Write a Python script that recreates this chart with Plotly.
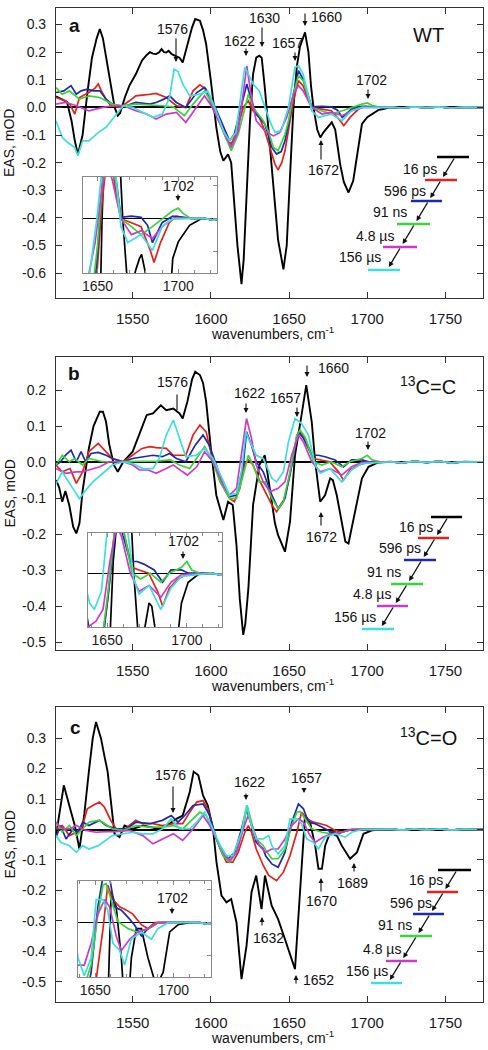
import plotly.graph_objects as go

W, H = 488, 1050
FONT = "Liberation Sans, Arial, sans-serif"

# ---------------- data: (wavenumber cm-1, EAS mOD) ----------------
TAIL = [(1715, 0.001), (1722, -0.002), (1730, 0.002), (1738, -0.001), (1746, 0.002),
        (1754, -0.002), (1762, 0.001), (1774, 0.0)]

SERIES = ["16 ps", "596 ps", "91 ns", "4.8 \u00b5s", "156 \u00b5s"]
COLORS = ["#000000", "#e3211c", "#1f2aa8", "#38d438", "#cc3acc", "#3fdede"]

A_BLACK = [(1501,0.04),(1508,0.02),(1511,-0.05),(1513,-0.12),(1515,-0.17),(1518,-0.10),(1521,0.05),(1524,0.18),(1527,0.25),(1529,0.284),(1531,0.25),(1534,0.15),(1537,0.04),(1538.5,0.0),(1540.5,-0.03),(1542,-0.02),(1545,0.036),(1548,0.08),(1552,0.12),(1556,0.17),(1559,0.19),(1561,0.2),(1563,0.195),(1565,0.193),(1567,0.2),(1568.5,0.211),(1570,0.2),(1571.5,0.199),(1573,0.205),(1575,0.193),(1578,0.185),(1580,0.18),(1582,0.163),(1585,0.229),(1588,0.29),(1590,0.32),(1593,0.314),(1595,0.28),(1597,0.229),(1600,0.097),(1603.5,-0.072),(1606,-0.16),(1608,-0.193),(1611,-0.17),(1613,-0.2),(1615,-0.35),(1617,-0.5),(1619.6,-0.64),(1621,-0.55),(1623,-0.3),(1625,-0.05),(1627,0.121),(1629,0.18),(1631,0.187),(1632.5,0.18),(1634.5,0.072),(1637,-0.1),(1640,-0.3),(1643,-0.48),(1646.4,-0.586),(1648.5,-0.5),(1650.6,-0.25),(1652.8,0.0),(1655,0.15),(1657,0.22),(1660.2,0.272),(1662.4,0.2),(1664,0.08),(1665.6,0.0),(1668,-0.08),(1670,-0.109),(1672,-0.09),(1674,-0.075),(1676,-0.06),(1677.3,-0.054),(1679.5,-0.08),(1682.7,-0.206),(1685,-0.27),(1688,-0.308),(1691,-0.266),(1693.4,-0.17),(1696.6,-0.06),(1700,-0.035),(1703,-0.024),(1707,-0.01),(1711.5,-0.004)]
A_RED = [(1501,0.036),(1507,0.024),(1510,0.01),(1513,-0.024),(1516,0.036),(1522,0.054),(1526,0.07),(1528,0.085),(1530,0.06),(1533,0.03),(1536,0.006),(1542,0.0),(1548,0.024),(1552,0.042),(1559,0.046),(1565,0.051),(1571.5,0.036),(1575,0.02),(1578,0.006),(1584,0.0),(1588.6,0.06),(1593,0.082),(1597,0.066),(1601,0.0),(1606,-0.06),(1610,-0.115),(1613,-0.133),(1616,-0.097),(1620.7,0.0),(1624,0.024),(1627,-0.012),(1631,-0.036),(1634.5,-0.085),(1638,-0.15),(1641,-0.205),(1643,-0.226),(1645.3,-0.2),(1647.4,-0.157),(1650,-0.07),(1652.8,0.024),(1656,0.097),(1659,0.079),(1662,0.03),(1664.5,0.0),(1671,-0.006),(1677,-0.012),(1682.7,-0.048),(1685,-0.066),(1689,-0.036),(1694.4,-0.006),(1698.7,0.004),(1703,0.002),(1710,0.0)]
A_BLUE = [(1501,0.054),(1506,0.06),(1510.6,0.079),(1514,0.048),(1517,0.06),(1521,0.066),(1525,0.06),(1529,0.06),(1533,0.03),(1537,0.012),(1544,0.002),(1552,0.018),(1561,0.012),(1565,0.018),(1570,0.03),(1573.6,0.042),(1578,0.018),(1584,0.0),(1591,0.054),(1596,0.072),(1601,0.024),(1608,-0.072),(1612,-0.121),(1615,-0.097),(1620,0.012),(1623,0.085),(1626,0.024),(1629,-0.024),(1634.5,-0.06),(1639,-0.145),(1642,-0.169),(1645,-0.16),(1647.4,-0.121),(1650,-0.05),(1652.8,0.048),(1656,0.133),(1659,0.103),(1662,0.05),(1664.5,0.002),(1671,0.004),(1677,0.002),(1681,-0.01),(1684,-0.036),(1690,-0.006),(1696.6,0.004),(1703,0.002),(1710,0.0)]
A_GREEN = [(1501,0.072),(1505,0.048),(1509.5,0.06),(1516,0.03),(1522,0.042),(1529,0.036),(1537,0.012),(1544,0.006),(1552,0.012),(1561,0.01),(1569,0.006),(1576,0.002),(1583,-0.03),(1588.6,0.012),(1596,0.06),(1601,0.012),(1608,-0.085),(1613,-0.157),(1617.5,-0.097),(1621.7,0.0),(1624,0.048),(1627,0.0),(1633.5,-0.048),(1637,-0.09),(1640,-0.145),(1643,-0.157),(1647.4,-0.097),(1650,-0.04),(1652.8,0.048),(1656,0.115),(1659,0.097),(1664.5,0.0),(1671,-0.012),(1677,-0.024),(1684,-0.012),(1690,0.0),(1696.6,0.012),(1700,0.016),(1703,0.008),(1708,0.0)]
A_MAGENTA = [(1501,0.012),(1507,0.018),(1514,0.006),(1522,-0.012),(1531,0.0),(1537,0.006),(1544,0.006),(1552,-0.012),(1559,-0.024),(1565,-0.042),(1571.5,-0.024),(1578,-0.018),(1584,-0.054),(1591,0.0),(1596,0.042),(1601,0.0),(1608,-0.085),(1613,-0.145),(1617.5,-0.085),(1620.7,0.048),(1623,0.15),(1626,0.036),(1629,-0.048),(1634.5,-0.085),(1640,-0.103),(1644,-0.091),(1648.5,-0.036),(1652.8,0.048),(1656,0.079),(1659,0.06),(1664.5,0.0),(1671,-0.024),(1677,-0.018),(1684,-0.03),(1690,-0.012),(1696.6,0.0),(1705,0.0)]
A_CYAN = [(1501,-0.048),(1505,-0.109),(1508.5,-0.127),(1513,-0.145),(1515,-0.175),(1518,-0.121),(1522,-0.121),(1528,-0.091),(1533,-0.072),(1539.5,-0.024),(1544,0.006),(1550,0.0),(1556.5,-0.018),(1563,-0.036),(1569,-0.024),(1573.6,0.036),(1576.5,0.139),(1579,0.13),(1582,0.085),(1586.5,0.042),(1593,0.048),(1598,0.06),(1602.5,0.0),(1608,-0.085),(1612,-0.121),(1616,-0.091),(1619.6,0.06),(1621.7,0.145),(1624,0.121),(1627,0.085),(1631,0.06),(1634.6,0.0),(1638,-0.054),(1641,-0.09),(1645,-0.085),(1649.6,0.0),(1653.8,0.145),(1656,0.151),(1659,0.121),(1664.5,-0.012),(1668.8,-0.036),(1677,-0.024),(1684,-0.048),(1690,-0.012),(1696.6,0.0),(1705,0.0)]

B_BLACK = [(1501,-0.05),(1503,-0.07),(1505,-0.11),(1507,-0.08),(1509.5,-0.12),(1512,-0.18),(1514,-0.198),(1516,-0.17),(1518,-0.08),(1522,0.038),(1525,0.1),(1529,0.14),(1531,0.14),(1533,0.112),(1535,0.05),(1538,-0.008),(1540.5,-0.027),(1544,0.001),(1550,0.029),(1555.5,0.094),(1559,0.131),(1563,0.135),(1566,0.15),(1568,0.158),(1571.5,0.144),(1576,0.149),(1580,0.135),(1582,0.121),(1585,0.168),(1588,0.23),(1590,0.251),(1593,0.242),(1595,0.22),(1597,0.168),(1600,0.038),(1603.5,-0.092),(1608,-0.161),(1611,-0.11),(1614,-0.119),(1616.4,-0.231),(1618.5,-0.38),(1620.7,-0.48),(1622,-0.45),(1624,-0.351),(1627,-0.119),(1631,-0.008),(1634.5,0.019),(1637.8,-0.073),(1641,-0.17),(1643,-0.203),(1647.4,-0.249),(1650.6,-0.166),(1653.8,0.019),(1658,0.131),(1661,0.214),(1664.5,0.112),(1666.7,0.001),(1669.9,-0.11),(1673,-0.092),(1676.3,-0.045),(1678,-0.05),(1680.5,-0.092),(1684,-0.17),(1686,-0.221),(1688,-0.226),(1692.3,-0.138),(1696.6,-0.045),(1700.8,-0.013),(1707,-0.001)]
B_RED = [(1501,-0.008),(1505,-0.027),(1510,-0.018),(1514,-0.059),(1518,-0.027),(1522,0.029),(1528,0.052),(1533,0.029),(1537,0.01),(1544,0.001),(1550,0.019),(1556,0.038),(1561,0.043),(1565,0.04),(1571.5,0.038),(1576,0.019),(1584,0.019),(1588.6,0.075),(1593,0.103),(1597,0.084),(1600.4,0.019),(1606,-0.055),(1612,-0.101),(1615,-0.11),(1618.5,-0.073),(1621.7,-0.004),(1624,0.006),(1627,-0.008),(1631,-0.05),(1634.6,-0.082),(1639,-0.119),(1642,-0.138),(1646.4,-0.11),(1650.6,-0.036),(1655,0.075),(1657,0.084),(1660.2,0.066),(1665.6,0.01),(1670,0.006),(1676,0.001),(1681.6,-0.027),(1684.8,-0.05),(1689,-0.022),(1694.4,-0.008),(1700.8,0.0)]
B_BLUE = [(1501,-0.008),(1504,0.001),(1507,0.019),(1510.6,0.033),(1514,0.001),(1517,0.029),(1520,0.001),(1523.4,0.024),(1528,0.027),(1533,0.019),(1537,0.01),(1544,0.001),(1550,0.01),(1556.5,0.015),(1563,0.019),(1569,0.015),(1573.6,0.024),(1578,0.01),(1584,0.001),(1590,0.047),(1595,0.075),(1599,0.047),(1603.6,-0.008),(1608,-0.064),(1612,-0.096),(1616.4,-0.092),(1620.7,-0.008),(1622.8,0.084),(1626,0.047),(1629,0.001),(1633.5,-0.027),(1635,-0.045),(1639,-0.092),(1643,-0.129),(1647.4,-0.101),(1651.7,-0.008),(1656,0.084),(1659.2,0.066),(1664.5,0.019),(1668.8,0.019),(1673,0.015),(1679.5,0.006),(1684.8,-0.013),(1690,0.006),(1696.6,0.006),(1701,0.001)]
B_GREEN = [(1501,-0.008),(1505,0.019),(1509.5,0.001),(1513,0.01),(1518,-0.008),(1522,0.01),(1531,0.001),(1544,0.001),(1555,0.001),(1565,0.003),(1574,0.006),(1580,-0.008),(1586.5,-0.018),(1591,0.01),(1596,0.043),(1600.4,0.01),(1606,-0.055),(1612,-0.101),(1616.4,-0.101),(1620.7,-0.036),(1624,0.019),(1627,-0.008),(1631,-0.055),(1634.6,-0.055),(1639,-0.101),(1643,-0.129),(1646.4,-0.11),(1650.6,-0.027),(1655,0.075),(1657,0.089),(1660.2,0.07),(1665.6,0.001),(1671,-0.008),(1677,0.001),(1683.7,-0.013),(1689,0.001),(1696.6,0.01),(1700,0.019),(1703,0.006),(1709,0.0)]
B_MAGENTA = [(1501,-0.018),(1507,-0.031),(1514,-0.027),(1518,-0.027),(1522,-0.022),(1529,-0.013),(1535,0.001),(1544,0.001),(1550,-0.008),(1554.5,-0.022),(1560,-0.022),(1565,-0.031),(1571.5,-0.018),(1576,-0.008),(1582,-0.027),(1585,-0.036),(1591,-0.013),(1596,0.029),(1601.4,0.001),(1608,-0.064),(1612,-0.092),(1616.4,-0.073),(1620.7,0.056),(1622.8,0.121),(1626,0.066),(1629,-0.008),(1633.5,-0.055),(1638,-0.082),(1643,-0.073),(1647.4,-0.055),(1651.7,0.019),(1656,0.075),(1659.2,0.056),(1664.5,0.001),(1670,-0.027),(1676.3,-0.018),(1683.7,-0.036),(1690,-0.013),(1696.6,-0.001)]
B_CYAN = [(1501,-0.06),(1505,-0.027),(1511.7,-0.073),(1516,-0.101),(1520,-0.078),(1524.5,-0.055),(1531,-0.031),(1537,-0.008),(1544,0.001),(1550,-0.004),(1556.5,-0.018),(1563,-0.018),(1567,0.01),(1571.5,0.075),(1576,0.117),(1580,0.066),(1584,0.015),(1590.7,0.019),(1596,0.038),(1601.4,0.01),(1608,-0.055),(1612,-0.092),(1616.4,-0.087),(1619.6,-0.027),(1622.4,0.084),(1625,0.056),(1629,0.019),(1633.5,0.01),(1639,-0.045),(1642,-0.055),(1646.4,-0.027),(1649.6,0.056),(1653.8,0.121),(1658,0.107),(1662.4,0.075),(1666.7,-0.008),(1670,-0.031),(1676.3,-0.018),(1683.7,-0.055),(1690,-0.022),(1696.6,-0.004)]

C_BLACK = [(1501,-0.02),(1503,0.046),(1506,0.145),(1509.5,0.079),(1513,0.013),(1516,-0.064),(1519,0.046),(1522,0.19),(1524.5,0.3),(1526.6,0.353),(1529.8,0.298),(1532,0.24),(1534,0.19),(1538.4,-0.014),(1541.6,-0.025),(1544.8,0.013),(1550,0.002),(1556.5,0.013),(1561,0.008),(1567,0.002),(1573.6,0.019),(1578,0.035),(1582,0.046),(1586.5,0.123),(1589,0.19),(1592,0.178),(1595,0.112),(1598,0.079),(1601.4,0.002),(1603.6,-0.107),(1606.8,-0.217),(1610,-0.239),(1613,-0.228),(1616.4,-0.305),(1619.6,-0.491),(1622.8,-0.382),(1626,-0.206),(1629,-0.151),(1632.4,-0.261),(1634.6,-0.151),(1638.9,-0.25),(1643,-0.294),(1647.4,-0.36),(1651.7,-0.425),(1653.8,-0.458),(1657,-0.206),(1660.2,0.046),(1663.4,0.024),(1666.7,-0.053),(1668.8,-0.129),(1671,-0.129),(1673.1,-0.053),(1676.3,-0.009),(1679.5,-0.009),(1683.7,-0.053),(1689,-0.096),(1693.4,-0.075),(1697.6,-0.014),(1703,-0.003),(1710,0.0)]
C_RED = [(1501,0.002),(1505,0.013),(1509.5,-0.02),(1514,-0.009),(1518,0.013),(1521,0.068),(1524.5,0.079),(1528.8,0.09),(1532,0.073),(1536,0.03),(1539.5,0.002),(1544,-0.003),(1552,0.03),(1556.5,0.019),(1563,0.019),(1569,0.013),(1576,0.019),(1582,0.019),(1586.5,0.057),(1591,0.09),(1595,0.095),(1598,0.068),(1601.4,0.002),(1606,-0.064),(1610,-0.107),(1614,-0.107),(1617.5,-0.075),(1621.7,-0.009),(1624,0.013),(1626,-0.009),(1629,-0.064),(1633.5,-0.118),(1637,-0.151),(1642,-0.168),(1646.4,-0.14),(1650.6,-0.086),(1655,-0.009),(1658,0.057),(1661.3,0.035),(1665.6,0.024),(1670,0.019),(1674,0.013),(1679.5,-0.003),(1683.7,-0.009),(1688,0.0)]
C_BLUE = [(1501,-0.025),(1504,0.013),(1507.4,-0.031),(1512,0.002),(1515,-0.009),(1518,0.024),(1522,0.013),(1528.8,0.03),(1533,0.013),(1539.5,0.002),(1546,0.002),(1552,0.024),(1561,0.019),(1569,0.03),(1574.7,0.046),(1579,0.024),(1583.3,0.046),(1588.6,0.079),(1595,0.084),(1599.3,0.046),(1603.6,-0.031),(1608,-0.086),(1611,-0.096),(1615.3,-0.075),(1619.6,0.002),(1622.8,0.068),(1626,0.013),(1629,-0.042),(1633.5,-0.064),(1635,-0.086),(1639,-0.113),(1643,-0.124),(1647.4,-0.075),(1651.7,0.024),(1656,0.084),(1659.2,0.068),(1662.4,0.024),(1666.7,0.019),(1671,0.008),(1675,-0.003),(1679.5,-0.02),(1683.7,-0.009),(1690,0.0)]
C_GREEN = [(1501,0.024),(1505,-0.009),(1509.5,0.013),(1514,-0.02),(1518,0.002),(1522,0.024),(1528,0.03),(1531,0.024),(1537,0.002),(1544,-0.003),(1552,0.013),(1561,0.008),(1569,0.008),(1576,0.013),(1582,0.002),(1586.5,0.024),(1593,0.057),(1597,0.046),(1601.4,-0.009),(1608,-0.086),(1612,-0.107),(1616.4,-0.075),(1620.7,0.002),(1623.2,0.079),(1626,0.024),(1629,-0.031),(1633.5,-0.053),(1636,-0.075),(1639,-0.096),(1643,-0.096),(1647.4,-0.064),(1651.7,0.013),(1655,0.057),(1657,0.059),(1660.2,0.035),(1664.5,0.002),(1671,-0.009),(1677,-0.014),(1683.7,-0.009),(1690,0.0)]
C_MAGENTA = [(1501,0.024),(1505,0.002),(1509.5,0.002),(1514,0.013),(1520,-0.003),(1526.6,-0.009),(1533,-0.007),(1539.5,-0.007),(1548,-0.003),(1556.5,-0.02),(1563,-0.047),(1569,-0.031),(1576,-0.014),(1582,-0.036),(1588.6,0.002),(1595,0.046),(1599.3,0.013),(1603.6,-0.031),(1608,-0.075),(1612,-0.102),(1616.4,-0.075),(1620.7,0.002),(1623.9,0.046),(1627,0.002),(1631,-0.053),(1635,-0.075),(1639,-0.064),(1643,-0.064),(1647.4,-0.031),(1651.7,0.013),(1656,0.035),(1659.2,0.024),(1663.4,-0.02),(1666.7,-0.042),(1672,-0.025),(1677.3,-0.014),(1684,-0.009),(1690,0.0)]
C_CYAN = [(1501,-0.02),(1504,-0.042),(1509.5,-0.053),(1514,-0.075),(1518,-0.053),(1522,-0.064),(1528,-0.053),(1533,-0.036),(1537,-0.02),(1544,-0.014),(1550,-0.009),(1556.5,-0.014),(1563,-0.014),(1569,0.002),(1574.7,0.035),(1580,0.002),(1586.5,0.002),(1591,0.024),(1596,0.057),(1600.4,0.013),(1606,-0.053),(1610,-0.086),(1614,-0.086),(1619.6,-0.009),(1622.8,0.079),(1626,0.013),(1629,-0.031),(1633.5,-0.031),(1637,-0.02),(1639,-0.053),(1643,-0.08),(1647.4,-0.053),(1650.6,0.035),(1655,0.035),(1658,0.019),(1661.3,-0.031),(1665.6,-0.042),(1668.8,-0.064),(1673,-0.025),(1679.5,-0.014),(1685.9,-0.025),(1690,-0.009),(1696.6,0.0)]

PANEL_A = [A_BLACK, A_RED, A_BLUE, A_GREEN, A_MAGENTA, A_CYAN]
PANEL_B = [B_BLACK, B_RED, B_BLUE, B_GREEN, B_MAGENTA, B_CYAN]
PANEL_C = [C_BLACK, C_RED, C_BLUE, C_GREEN, C_MAGENTA, C_CYAN]

A_YTICKS = [0.3, 0.2, 0.1, 0.0, -0.1, -0.2, -0.3, -0.4, -0.5, -0.6]
B_YTICKS = [0.2, 0.1, 0.0, -0.1, -0.2, -0.3, -0.4, -0.5]
C_YTICKS = [0.3, 0.2, 0.1, 0.0, -0.1, -0.2, -0.3, -0.4, -0.5]
X_TICKS = [1550, 1600, 1650, 1700, 1750]
INSET_XTICKS = [1650, 1700]

# ---------------- layout geometry (pixels) ----------------
PANELS = [
    dict(data=PANEL_A, yt=A_YTICKS, top=8, bot=298, yr=[-0.69, 0.36], ax=("x", "y"), ins=("x2", "y2"),
         ibox=(83, 217, 177, 273), ixr=[1641, 1724], letter="a", lpos=(74, 25),
         tag="WT", tagpos=(428, 35), xtitle_y=333,
         notes=[("1576", 172, 29, 176, 62, 37, 2), ("1622", 239, 41, 246, 56, 47, 2),
                ("1630", 264, 18, 262, 47, 26, 2), ("1657", 287, 43, 295, 61, 51, 2),
                ("1660", 326, 17, 305, 26, 12, 2), ("1702", 371, 80, 368, 99, 88, 2),
                ("1672", 323, 170, 321, 140, 161, 2)],
         ilabel=("1702", 178, 186, 178, 201, 193),
         leg_y=[157, 180, 201, 224, 247, 270], leg_x=[(437, 469), (425, 457), (411, 442), (397, 430), (383, 417), (368, 400)],
         leg_txt=[(420, 169), (405, 191), (390, 212), (375, 236), (360, 257)], diag=((455, 157), (387, 270))),
    dict(data=PANEL_B, yt=B_YTICKS, top=357, bot=650, yr=[-0.522, 0.292], ax=("x3", "y3"), ins=("x4", "y4"),
         ibox=(88, 222, 533, 627), ixr=[1638, 1722], letter="b", lpos=(74, 373),
         tag="<sup>13</sup>C=C", tagpos=(428, 385), xtitle_y=685,
         notes=[("1576", 172, 382, 177, 410, 393, 0), ("1622", 249, 393, 246, 413, 402, 2),
                ("1657", 285, 398, 297, 417, 406, 2), ("1660", 333, 368, 307, 377, 364, 2),
                ("1702", 370, 433, 368, 450, 440, 2), ("1672", 321, 537, 321, 512, 527, 2)],
         ilabel=("1702", 183, 541, 183, 559, 550),
         leg_y=[517, 538, 560, 584, 606, 629], leg_x=[(431, 462), (418, 449), (404, 436), (391, 423), (377, 408), (362, 394)],
         leg_txt=[(416, 527), (400, 548), (384, 572), (372, 594), (355, 617)], diag=((448, 517), (380, 629))),
    dict(data=PANEL_C, yt=C_YTICKS, top=707, bot=1002, yr=[-0.566, 0.402], ax=("x5", "y5"), ins=("x6", "y6"),
         ibox=(78, 211, 881, 977), ixr=[1639, 1724], letter="c", lpos=(75, 727),
         tag="<sup>13</sup>C=O", tagpos=(428, 736), xtitle_y=1037,
         notes=[("1576", 170, 775, 173, 813, 785, 2), ("1622", 249, 782, 246, 800, 792, 2),
                ("1657", 306, 778, 304, 793, 787, 2), ("1689", 352, 883, 354, 863, 873, 2),
                ("1670", 321, 901, 321, 878, 893, 2), ("1632", 268, 938, 262, 917, 927, 2),
                ("1652", 318, 980, 296, 975, 985, 2)],
         ilabel=("1702", 172, 898, 172, 914, 906),
         leg_y=[870, 892, 914, 936, 961, 983], leg_x=[(438, 471), (427, 458), (413, 444), (400, 432), (386, 417), (371, 402)],
         leg_txt=[(426, 880), (411, 903), (395, 925), (382, 949), (367, 971)], diag=((457, 870), (388, 983))),
]

MAIN_L, MAIN_R = 56, 483
X_RANGE = [1501, 1774]
INSET_YR = [-0.082, 0.063]


def fx(px):
    return px / W


def fy(py):
    return 1 - py / H


def split(pts):
    pts = list(pts) + TAIL
    return [p[0] for p in pts], [p[1] for p in pts]


def fmt(v):
    return "0.0" if abs(v) < 1e-9 else ("%.1f" % v)


def label(px, py, text, size=14, angle=0, xanchor="center"):
    return dict(x=fx(px), y=fy(py), xref="paper", yref="paper", text=text, showarrow=False,
                xanchor=xanchor, yanchor="middle", textangle=angle,
                font=dict(size=size, family=FONT, color="#111"))


def arrow(hx, hy, tx, ty, head=2, size=0.9, width=1.1):
    return dict(x=fx(hx), y=fy(hy), xref="paper", yref="paper", text="", showarrow=True,
                ax=tx - hx, ay=ty - hy, axref="pixel", ayref="pixel", arrowhead=head,
                arrowsize=size, arrowwidth=width, arrowcolor="#111",
                xanchor="center", yanchor="middle")


fig = go.Figure()
layout = dict(width=W, height=H, autosize=False, margin=dict(l=0, r=0, t=0, b=0, pad=0),
              paper_bgcolor="white", plot_bgcolor="white", showlegend=False,
              font=dict(family=FONT, color="#1a1a1a"))
annotations = []
shapes = []

for p in PANELS:
    xa, ya = p["ax"]
    xi, yi = p["ins"]
    for k, pts in enumerate(p["data"]):
        xs, ys = split(pts)
        fig.add_trace(go.Scatter(x=xs, y=ys, xaxis=xa, yaxis=ya, mode="lines",
                                 line=dict(color=COLORS[k], width=1.9 if k == 0 else 1.7),
                                 hoverinfo="skip"))
    # white backdrop under the inset (drawn in main axes coordinates)
    l, r, t, b = p["ibox"]
    yr0, yr1 = p["yr"]
    top, bot = p["top"], p["bot"]
    cx = [X_RANGE[0] + (v - MAIN_L) / (MAIN_R - MAIN_L) * (X_RANGE[1] - X_RANGE[0]) for v in (l, r, r, l, l)]
    cy = [yr1 - (v - top) / (bot - top) * (yr1 - yr0) for v in (t, t, b, b, t)]
    fig.add_trace(go.Scatter(x=cx, y=cy, xaxis=xa, yaxis=ya, mode="lines", fill="toself", fillcolor="white",
                             line=dict(width=0, color="white"), hoverinfo="skip"))
    for k, pts in enumerate(p["data"]):
        xs, ys = split(pts)
        fig.add_trace(go.Scatter(x=xs, y=ys, xaxis=xi, yaxis=yi, mode="lines",
                                 line=dict(color=COLORS[k], width=1.7), hoverinfo="skip"))

    layout["xaxis" + xa[1:]] = dict(domain=[fx(MAIN_L), fx(MAIN_R)], range=X_RANGE, anchor=ya,
                                   showline=True, linecolor="#333", linewidth=1.2, mirror="ticks",
                                   ticks="inside", ticklen=6, tickwidth=1.2, tickcolor="#333",
                                   tickvals=X_TICKS, showgrid=False, zeroline=False,
                                   tickfont=dict(size=15, family=FONT, color="#1a1a1a"), ticklabelstandoff=7)
    layout["yaxis" + ya[1:]] = dict(domain=[fy(bot), fy(top)], range=p["yr"], anchor=xa,
                                   showline=True, linecolor="#333", linewidth=1.2, mirror="ticks",
                                   ticks="inside", ticklen=6, tickwidth=1.2, tickcolor="#333",
                                   tickvals=p["yt"], ticktext=[fmt(v) for v in p["yt"]],
                                   showgrid=False, zeroline=True, zerolinecolor="black", zerolinewidth=1.5,
                                   tickfont=dict(size=14, family=FONT, color="#1a1a1a"), ticklabelstandoff=6)
    layout["xaxis" + xi[1:]] = dict(domain=[fx(l), fx(r)], range=p["ixr"], anchor=yi,
                                   showline=True, linecolor="#888", linewidth=1, mirror="ticks",
                                   ticks="inside", ticklen=4, tickcolor="#888", tickvals=INSET_XTICKS,
                                   minor=dict(dtick=10, tick0=1600, ticks="inside", ticklen=3, tickcolor="#888"),
                                   showgrid=False, zeroline=False,
                                   tickfont=dict(size=14, family=FONT, color="#1a1a1a"))
    layout["yaxis" + yi[1:]] = dict(domain=[fy(b), fy(t)], range=INSET_YR, anchor=xi, side="right",
                                   showline=True, linecolor="#888", linewidth=1, mirror=True,
                                   ticks="inside", ticklen=4, tickcolor="#888", dtick=0.05, tick0=0,
                                   showticklabels=False, showgrid=False,
                                   zeroline=True, zerolinecolor="black", zerolinewidth=1.4)

    annotations.append(label(*p["lpos"], "<b>%s</b>" % p["letter"], size=19))
    annotations.append(label(*p["tagpos"], p["tag"], size=20))
    annotations.append(label(272, p["xtitle_y"], "wavenumbers, cm<sup>-1</sup>", size=14))
    annotations.append(label(9, (top + bot) / 2 - 10, "EAS, mOD", size=14, angle=-90))
    for (txt, tx, ty, axp, hy, tly, head) in p["notes"] + [p["ilabel"] + (2,)]:
        annotations.append(label(tx, ty, txt, size=14))
        annotations.append(arrow(axp, hy, axp, tly, head=head))
    # kinetic scheme
    (sx, sy), (ex, ey) = p["diag"]
    def dxp(py):
        return sx + (py - sy) / (ey - sy) * (ex - sx)
    for k in range(6):
        x0, x1 = p["leg_x"][k]
        yy = p["leg_y"][k]
        shapes.append(dict(type="line", xref="paper", yref="paper", x0=fx(x0), x1=fx(x1),
                           y0=fy(yy), y1=fy(yy), line=dict(color=COLORS[k], width=2.5)))
    for k in range(5):
        y0 = p["leg_y"][k]
        y1 = p["leg_y"][k + 1] - 3
        annotations.append(arrow(dxp(y1), y1, dxp(y0), y0, head=2, size=0.8, width=1.3))
        annotations.append(label(*p["leg_txt"][k], SERIES[k], size=14))

layout["annotations"] = annotations
layout["shapes"] = shapes
fig.update_layout(**layout)
fig.write_html("out.html", config={"displayModeBar": False},
               post_script="document.body.style.margin='0';document.body.style.overflow='hidden';")
